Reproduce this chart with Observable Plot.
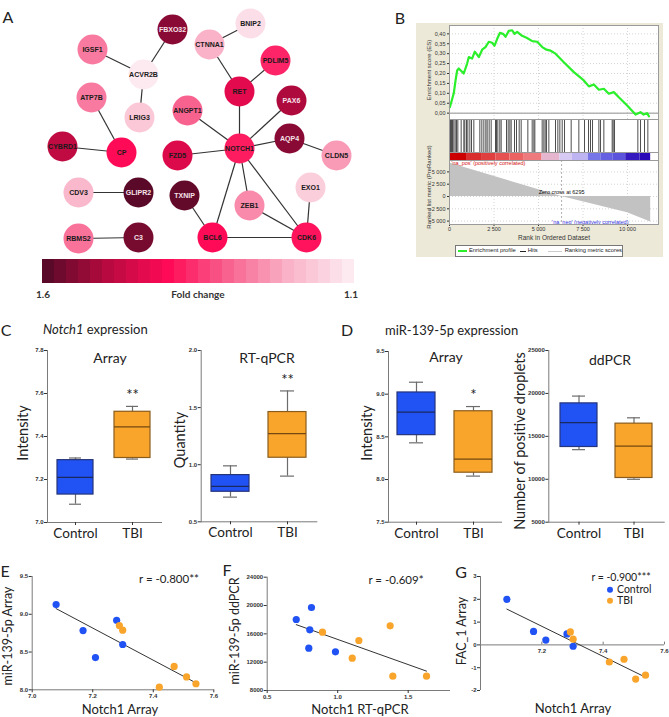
<!DOCTYPE html>
<html><head><meta charset="utf-8">
<script src="https://cdn.jsdelivr.net/npm/d3@7"></script>
<script src="https://cdn.jsdelivr.net/npm/@observablehq/plot@0.6"></script>
<style>
html,body{margin:0;padding:0;background:#fff;overflow:hidden}
#fig{position:relative;width:669px;height:717px;font-family:Lato,"Open Sans",sans-serif;color:#222;overflow:hidden}
#fig svg{position:absolute;left:0;top:0;max-width:none}
.lb{position:absolute;white-space:nowrap;line-height:1}
</style></head><body><div id="fig"></div>
<script>
// ---------------- Panel A: network ----------------
const geneNames = ["FBXO32","BNIP2","IGSF1","CTNNA1","ACVR2B","PDLIM5","ATP7B","RET","LRIG3","ANGPT1","PAX6","CYBRD1","CP","NOTCH1","AQP4","CLDN5","FZD5","CDV3","GLIPR2","TXNIP","EXO1","ZEB1","RBMS2","C3","BCL6","CDK6"];
const geneLayoutX = [172,250,92,209,143,275,91,239,139,187,291,62,121,239,289,336,177,78,138,184,310,249,78,138,212,306];
const geneLayoutY = [29,23,49,44,74,60,97,91,117,110,100,146,152,148,138,155,155,192,192,195,187,205,238,237,237,237];
const geneFoldChange = [1.55,1.12,1.27,1.2,1.1,1.37,1.27,1.44,1.16,1.3,1.51,1.49,1.4,1.38,1.55,1.23,1.45,1.19,1.6,1.59,1.15,1.25,1.28,1.57,1.4,1.39];
const edgeSource = ["FBXO32","IGSF1","ACVR2B","BNIP2","CTNNA1","PDLIM5","RET","ANGPT1","PAX6","AQP4","AQP4","FZD5","NOTCH1","NOTCH1","NOTCH1","ATP7B","CYBRD1","CDV3","RBMS2","TXNIP","ZEB1","BCL6","EXO1"];
const edgeTarget = ["ACVR2B","ACVR2B","LRIG3","CTNNA1","RET","RET","NOTCH1","NOTCH1","NOTCH1","NOTCH1","CLDN5","NOTCH1","ZEB1","BCL6","CDK6","CP","CP","GLIPR2","C3","BCL6","CDK6","CDK6","CDK6"];
const foldSteps = [1.6,1.58,1.56,1.54,1.52,1.5,1.48,1.46,1.44,1.42,1.4,1.38,1.36,1.34,1.32,1.3,1.28,1.26,1.24,1.22,1.2,1.18,1.16,1.14,1.12,1.1];

// ---------------- Panel B: GSEA ----------------
const esRank = [20,240,340,430,520,800,990,1085,1270,1420,1650,1835,2020,2210,2400,2530,2680,2830,3010,3150,3330,3520,3650,3800,4080,4330,4650,4930,5210,5450,5680,5955,6420,6985,7545,7830,8110,8390,8670,8950,9230,9510,9980,10450,10730,10900,11100,11200];
const esScore = [0.03,0.10,0.165,0.215,0.225,0.20,0.25,0.283,0.275,0.31,0.283,0.32,0.333,0.36,0.355,0.34,0.375,0.405,0.40,0.385,0.415,0.418,0.40,0.41,0.39,0.38,0.363,0.36,0.333,0.32,0.315,0.30,0.257,0.207,0.165,0.135,0.145,0.118,0.123,0.098,0.106,0.08,0.039,-0.007,0.005,-0.007,0.0,-0.016];
const hitRanks = [56,112,169,243,318,393,468,655,805,861,955,1030,1142,1236,1367,1704,1816,1929,2041,2116,2228,2341,2584,2640,2715,2827,2903,3202,3296,3390,3465,3652,3764,3914,4026,4401,4644,4738,4794,5206,5300,5375,5450,5581,5955,6086,6199,6330,6461,6835,7266,7585,7809,7921,8034,8390,8483,8670,9138,9195,9270,10580,10730,10955,11142];
const segStart = [0,1000,1800,2600,3400,4200,5200,6200,6900,7800,8500,9200,9900,10700];
const segEnd   = [1000,1800,2600,3400,4200,5200,6200,6900,7800,8500,9200,9900,10700,11300];
const segScore = [1.0,0.8,0.72,0.64,0.56,0.45,0.15,-0.05,-0.15,-0.45,-0.55,-0.62,-0.92,-1.0];
const metricRank = [0,6295,10000,11300];
const metricValue = [6800,0,-3300,-5200];
const zeroCross = 6295;
const esTicks = [0,0.05,0.10,0.15,0.20,0.25,0.30,0.35,0.40];
const metricTicks = [5000,2500,0,-2500,-5000];
const rankTicks = [0,2500,5000,7500,10000];

// ---------------- Panels C, D: box plots ----------------
const groups = ["Control","TBI"];
const notchArray = {lo:[7.085,7.295], q1:[7.13,7.30], med:[7.21,7.445], q3:[7.29,7.515], hi:[7.30,7.54]};
const notchQpcr  = {lo:[0.716,0.90], q1:[0.763,1.061], med:[0.81,1.272], q3:[0.909,1.461], hi:[0.99,1.646]};
const mirArray   = {lo:[8.43,8.04], q1:[8.52,8.08], med:[8.79,8.24], q3:[9.02,8.80], hi:[9.14,8.855]};
const mirDdpcr   = {lo:[13450,10000], q1:[13760,10150], med:[16590,13870], q3:[18840,16480], hi:[19690,17160]};
const notchArraySig = ["","**"], notchQpcrSig = ["","**"], mirArraySig = ["","*"], mirDdpcrSig = ["",""];

// ---------------- Panels E, F, G: scatter ----------------
const eCtrlX = [7.079,7.168,7.209,7.279,7.299], eCtrlY = [9.128,8.784,8.427,8.921,8.60];
const eTbiX = [7.288,7.299,7.42,7.469,7.51,7.541], eTbiY = [8.85,8.79,8.035,8.31,8.17,8.08];
const fCtrlX = [0.706,0.814,0.802,0.795,0.984], fCtrlY = [18025,19720,16570,13970,13460];
const fTbiX = [0.892,1.15,1.103,1.372,1.391,1.63], fTbiY = [16240,15060,12560,17130,10020,10020];
const gCtrlX = [7.086,7.173,7.213,7.282,7.302], gCtrlY = [2.0,0.59,0.21,0.48,-0.06];
const gTbiX = [7.293,7.302,7.42,7.468,7.506,7.538], gTbiY = [0.57,0.25,-0.75,-0.63,-1.5,-1.33];

// ================= drawing =================
const W = 669, H = 717;
const fig = document.getElementById("fig");
const BLUE = "#2152f3", ORANGE = "#f9a52c";
const boxFill = [BLUE, ORANGE], boxStroke = ["#26357a", "#8a5c1c"], medStroke = ["#1b2a5e", "#74490f"];
const tickFont = "'Liberation Sans', Arial, sans-serif";

function div(html, x, y, o = {}) {
  const d = document.createElement("div");
  d.className = "lb";
  d.innerHTML = html;
  d.style.left = x + "px"; d.style.top = y + "px";
  d.style.fontSize = (o.size || 13) + "px";
  if (o.weight) d.style.fontWeight = o.weight;
  if (o.color) d.style.color = o.color;
  if (o.family) d.style.fontFamily = o.family;
  const tx = o.anchor === "start" ? "0" : o.anchor === "end" ? "-100%" : "-50%";
  d.style.transform = `translate(${tx},-50%)` + (o.rotate ? ` rotate(${o.rotate}deg)` : "");
  if (o.rotate) d.style.transformOrigin = "50% 50%";
  fig.appendChild(d);
  return d;
}
function addPlot(frame, opts) {
  const [x0, x1, y0, y1] = frame;
  const svg = Plot.plot({
    width: W, height: H,
    marginLeft: x0, marginRight: W - x1, marginTop: y0, marginBottom: H - y1,
    style: {background: "transparent", overflow: "visible", fontFamily: tickFont, fontSize: "6px", color: "#333"},
    ...opts
  });
  svg.style.position = "absolute"; svg.style.left = "0px"; svg.style.top = "0px";
  fig.appendChild(svg);
  return svg;
}

// beige GSEA background (drawn first)
const bg = document.createElement("div");
Object.assign(bg.style, {position: "absolute", left: "416px", top: "23px", width: "247px", height: "234px", background: "#ece9d8"});
fig.appendChild(bg);

// ---- A network
const foldScale = {type: "linear", domain: [1.1, 1.2, 1.3, 1.4, 1.5, 1.6], range: ["#fde9f0", "#f9b2c7", "#f8628f", "#ff0a56", "#b80a40", "#5a0a28"]};
const nodes = geneNames.map((g, i) => ({name: g, x: geneLayoutX[i], y: geneLayoutY[i], fc: geneFoldChange[i]}));
const byName = new Map(nodes.map(d => [d.name, d]));
const edges = edgeSource.map((s, i) => ({s: byName.get(s), t: byName.get(edgeTarget[i])}));
addPlot([0, 340, 0, 300], {
  x: {domain: [0, 340], axis: null}, y: {domain: [0, 300], reverse: true, axis: null},
  color: foldScale,
  marks: [
    Plot.link(edges, {x1: d => d.s.x, y1: d => d.s.y, x2: d => d.t.x, y2: d => d.t.y, stroke: "#333", strokeWidth: 1.2}),
    Plot.dot(nodes, {x: "x", y: "y", r: 15, fill: "fc", stroke: "none"}),
    Plot.text(nodes, {filter: d => d.fc < 1.5, x: "x", y: "y", text: "name", fill: "#1a1a1a", fontWeight: "bold", fontSize: 7, fontFamily: tickFont}),
    Plot.text(nodes, {filter: d => d.fc >= 1.5, x: "x", y: "y", text: "name", fill: "#f6e3ea", fontWeight: "bold", fontSize: 7, fontFamily: tickFont})
  ]
});
addPlot([36, 360, 259, 283], {
  x: {type: "band", domain: foldSteps, padding: 0, axis: null},
  color: foldScale,
  marks: [Plot.cell(foldSteps, {x: d => d, fill: d => d, inset: 0})]
});

// ---- B GSEA
const commaFmt = d => d3.format(".2f")(d).replace(".", ",");
const spaceFmt = d => d3.format(",")(d).replace(",", " ");
const esData = esRank.map((r, i) => ({rank: r, es: esScore[i]}));
const metricData = metricRank.map((r, i) => ({rank: r, m: metricValue[i]}));
const segments = segStart.map((s, i) => ({start: s, end: segEnd[i], score: segScore[i]}));
const rankDomain = [0, 11740];
const dotted = {stroke: "#d4d4d4", strokeDasharray: "1,2"};
addPlot([449, 658, 25, 119], {
  x: {domain: rankDomain, axis: null}, y: {domain: [-0.032, 0.442]},
  marks: [
    Plot.frame({fill: "white", stroke: "none"}),
    Plot.ruleX(rankTicks, dotted),
    Plot.ruleY(esTicks, dotted),
    Plot.ruleY([0], {stroke: "#b4b4b4", strokeWidth: 1.5}),
    Plot.line(esData, {x: "rank", y: "es", stroke: "#2aef2a", strokeWidth: 2.2}),
    Plot.axisY({ticks: esTicks, tickFormat: commaFmt, tickSize: 2, tickPadding: 2, fontSize: 5.5, label: null}),
    Plot.frame({stroke: "#9a9a9a"})
  ]
});
addPlot([449, 658, 119, 152], {
  x: {domain: rankDomain, axis: null},
  marks: [
    Plot.frame({fill: "white", stroke: "none"}),
    Plot.ruleX(hitRanks, {stroke: "#3a3a3a", strokeWidth: 0.9}),
    Plot.frame({stroke: "#9a9a9a"})
  ]
});
addPlot([449, 658, 152, 160], {
  x: {domain: rankDomain, axis: null},
  color: {type: "linear", domain: [-1, -0.5, 0, 0.5, 1], range: ["#2a0ab8", "#6a6ae6", "#e2d4f6", "#f07070", "#cc0000"]},
  marks: [
    Plot.frame({fill: "white", stroke: "none"}),
    Plot.rect(segments, {x1: "start", x2: "end", fill: "score", inset: 0}),
    Plot.frame({stroke: "#9a9a9a"})
  ]
});
addPlot([449, 658, 160, 224], {
  x: {domain: rankDomain}, y: {domain: [-5691, 7317]},
  marks: [
    Plot.frame({fill: "white", stroke: "none"}),
    Plot.ruleX(rankTicks, dotted),
    Plot.ruleY(metricTicks, dotted),
    Plot.areaY(metricData, {x: "rank", y: "m", fill: "#c2c2c2"}),
    Plot.ruleX([zeroCross], {stroke: "#b0b0b0", strokeDasharray: "2,2"}),
    Plot.text([zeroCross], {x: d => d, y: 0, dy: -4, text: d => "Zero cross at " + d, fontSize: 5.5, fill: "#111"}),
    Plot.text(["'na_pos' (positively correlated)"], {frameAnchor: "top-left", text: d => d, dx: 2, dy: 1, fontSize: 5.5, fill: "#d41414"}),
    Plot.text(["'na_neg' (negatively correlated)"], {frameAnchor: "bottom-right", text: d => d, dx: -30, dy: -1, fontSize: 5.5, fill: "#3434e0"}),
    Plot.axisY({ticks: metricTicks, tickFormat: spaceFmt, tickSize: 2, tickPadding: 2, fontSize: 5.5, label: null}),
    Plot.axisX({ticks: rankTicks, tickFormat: spaceFmt, tickSize: 2, tickPadding: 1, fontSize: 5.5, label: null}),
    Plot.frame({stroke: "#9a9a9a"})
  ]
});
div("Enrichment score (ES)", 429, 70, {size: 6, rotate: -90, family: tickFont, color: "#333"});
div("Ranked list metric (PreRanked)", 429, 187, {size: 6, rotate: -90, family: tickFont, color: "#333"});
div("Rank in Ordered Dataset", 554, 238, {size: 6.5, family: tickFont, color: "#333"});
const leg = document.createElement("div");
Object.assign(leg.style, {position: "absolute", left: "455px", top: "245px", width: "166px", height: "10px", border: "1px solid #777", background: "#fff",
  fontFamily: tickFont, fontSize: "5.8px", color: "#222", display: "flex", alignItems: "center", whiteSpace: "nowrap", lineHeight: "1"});
leg.innerHTML = '<span style="display:inline-block;width:9px;height:2px;background:#2aef2a;margin:0 2px 0 2px"></span>Enrichment profile' +
  '<span style="display:inline-block;width:6px;height:1px;background:#222;margin:0 2px 0 4px"></span>Hits' +
  '<span style="display:inline-block;width:14px;height:1px;background:#ccc;margin:0 3px 0 10px"></span>Ranking metric scores';
fig.appendChild(leg);

// ---- C, D box plots
function boxPanel(frame, yDomain, yTicks, yFmt, stats, sig, band) {
  const data = groups.map((g, i) => ({group: g, lo: stats.lo[i], q1: stats.q1[i], med: stats.med[i], q3: stats.q3[i], hi: stats.hi[i], sig: sig[i]}));
  const marks = [
    Plot.frame({anchor: "left", stroke: "#7a7a7a"}),
    Plot.frame({anchor: "bottom", stroke: "#7a7a7a"}),
    Plot.axisY({ticks: yTicks, tickFormat: yFmt, tickSize: 3, tickPadding: 1, fontSize: 6, fontWeight: "bold", label: null}),
    Plot.axisX({tickSize: 3, tickPadding: 3, fontSize: 13.5, fontFamily: "Lato, 'Open Sans', sans-serif", fill: "#222", label: null})
  ];
  data.forEach((d, i) => {
    const one = [d];
    marks.push(
      Plot.ruleX(one, {x: "group", y1: "lo", y2: "hi", stroke: "#6c6c6c", strokeWidth: 1.2}),
      Plot.tickY(one, {x: "group", y: "lo", stroke: "#6c6c6c", strokeWidth: 1.2, inset: 12}),
      Plot.tickY(one, {x: "group", y: "hi", stroke: "#6c6c6c", strokeWidth: 1.2, inset: 12}),
      Plot.barY(one, {x: "group", y1: "q1", y2: "q3", fill: boxFill[i], stroke: boxStroke[i], strokeWidth: 1.2, inset: 0}),
      Plot.tickY(one, {x: "group", y: "med", stroke: medStroke[i], strokeWidth: 1.2})
    );
  });
  marks.push(Plot.text(data, {x: "group", y: "hi", text: "sig", dy: -11, fontSize: 15, fontFamily: "Lato, sans-serif", fill: "#222"}));
  addPlot(frame, {
    x: {type: "band", domain: groups, paddingInner: band[0], paddingOuter: band[1]},
    y: {domain: yDomain},
    marks
  });
}
const f1 = d3.format(".1f");
boxPanel([47, 161, 350, 522], [7.0, 7.8], [7.0, 7.2, 7.4, 7.6, 7.8], f1, notchArray, notchArraySig, [0.362, 0.164]);
boxPanel([200.7, 316.3, 350, 521.3], [0.5, 2.0], [0.5, 1.0, 1.5, 2.0], f1, notchQpcr, notchQpcrSig, [0.342, 0.185]);
boxPanel([388, 501, 351, 521.7], [7.5, 9.5], [7.5, 8.0, 8.5, 9.0, 9.5], f1, mirArray, mirArraySig, [0.339, 0.16]);
boxPanel([548.3, 663.7, 350, 521.7], [5000, 25000], [5000, 10000, 15000, 20000, 25000], d => String(d), mirDdpcr, mirDdpcrSig, [0.33, 0.196]);

// ---- E, F, G scatter
function scatterPanel(frame, xDomain, yDomain, xTicks, yTicks, xFmt, yFmt, cx, cy, tx, ty, zeroAxis) {
  const ctrl = cx.map((x, i) => ({x, y: cy[i]}));
  const tbi = tx.map((x, i) => ({x, y: ty[i]}));
  const all = ctrl.concat(tbi);
  const marks = [
    Plot.ruleX([xDomain[0]], {stroke: "#7a7a7a"}),
    Plot.axisY({ticks: yTicks, tickFormat: yFmt, tickSize: 3, tickPadding: 1, fontSize: 6, fontWeight: "bold", label: null})
  ];
  if (zeroAxis) {
    marks.push(
      Plot.ruleY([0], {stroke: "#7a7a7a"}),
      Plot.ruleX(xTicks, {y1: 0, y2: 0.12, stroke: "#7a7a7a"}),
      Plot.text(xTicks, {x: d => d, y: 0, text: xFmt, dy: 6, fontSize: 6, fontWeight: "bold", fill: "#333"})
    );
  } else {
    marks.push(
      Plot.ruleY([yDomain[0]], {stroke: "#7a7a7a"}),
      Plot.axisX({ticks: xTicks, tickFormat: xFmt, tickSize: 3, tickPadding: 1, fontSize: 6, fontWeight: "bold", label: null})
    );
  }
  marks.push(
    Plot.linearRegressionY(all, {x: "x", y: "y", ci: 0, stroke: "#333", strokeWidth: 1}),
    Plot.dot(ctrl, {x: "x", y: "y", r: 3.6, fill: BLUE}),
    Plot.dot(tbi, {x: "x", y: "y", r: 3.6, fill: ORANGE})
  );
  addPlot(frame, {x: {domain: xDomain, axis: zeroAxis ? null : undefined}, y: {domain: yDomain}, marks});
}
scatterPanel([31.7, 213.3, 576, 689.3], [7.0, 7.6], [8.0, 9.5], [7.0, 7.2, 7.4, 7.6], [8.0, 8.5, 9.0, 9.5], f1, f1, eCtrlX, eCtrlY, eTbiX, eTbiY, false);
scatterPanel([266.7, 450, 576.7, 690], [0.5, 1.8], [8000, 24000], [0.5, 1.0, 1.5], [8000, 12000, 16000, 20000, 24000], f1, d => String(d), fCtrlX, fCtrlY, fTbiX, fTbiY, false);
scatterPanel([480, 664, 576, 690], [7.0, 7.6], [-2, 3], [7.2, 7.4, 7.6], [-2, -1, 0, 1, 2, 3], f1, d => String(d), gCtrlX, gCtrlY, gTbiX, gTbiY, true);

// ---- text labels
const L = {size: 16};
div("A", 8, 17, L); div("B", 400, 18, L); div("C", 6, 330, L); div("D", 347, 330, L);
div("E", 5, 571, L); div("F", 227, 570, L); div("G", 461, 572, L);
div("1.6", 36, 294, {size: 10, weight: "bold", anchor: "start", color: "#333"});
div("Fold change", 198, 294, {size: 10, weight: "bold", color: "#333"});
div("1.1", 351, 294, {size: 10, weight: "bold", color: "#333"});
div("<i>Notch1</i> expression", 43, 329, {size: 13, anchor: "start"});
div("miR-139-5p expression", 385, 330, {size: 13, anchor: "start"});
div("Array", 110, 358, {size: 14}); div("RT-qPCR", 267, 358, {size: 14});
div("Array", 446, 357, {size: 14}); div("ddPCR", 610, 360, {size: 14});
div("Intensity", 23, 433, {size: 14.5, rotate: -90}); div("Quantity", 180, 440, {size: 14.5, rotate: -90});
div("Intensity", 367, 433, {size: 14.5, rotate: -90}); div("Number of positive droplets", 520, 441, {size: 14.5, rotate: -90});
div("miR-139-5p Array", 8, 636, {size: 12.5, rotate: -90}); div("Notch1 Array", 120, 709, {size: 13});
div("miR-139-5p ddPCR", 235, 631, {size: 12.5, rotate: -90}); div("Notch1 RT-qPCR", 360, 709, {size: 13});
div("FAC_1 Array", 462, 631, {size: 12.5, rotate: -90}); div("Notch1 Array", 573, 708, {size: 13});
div("r = -0.800**", 169, 579, {size: 11.5}); div("r = -0.609*", 396, 580, {size: 11.5}); div("r = -0.900***", 621, 577, {size: 10.5});
div('<span style="display:inline-block;width:6px;height:6px;border-radius:50%;background:' + BLUE + ';margin-right:4px"></span>Control', 607, 588.5, {size: 10.5, anchor: "start"});
div('<span style="display:inline-block;width:6px;height:6px;border-radius:50%;background:' + ORANGE + ';margin-right:4px"></span>TBI', 607, 600, {size: 10.5, anchor: "start"});
</script></body></html>
